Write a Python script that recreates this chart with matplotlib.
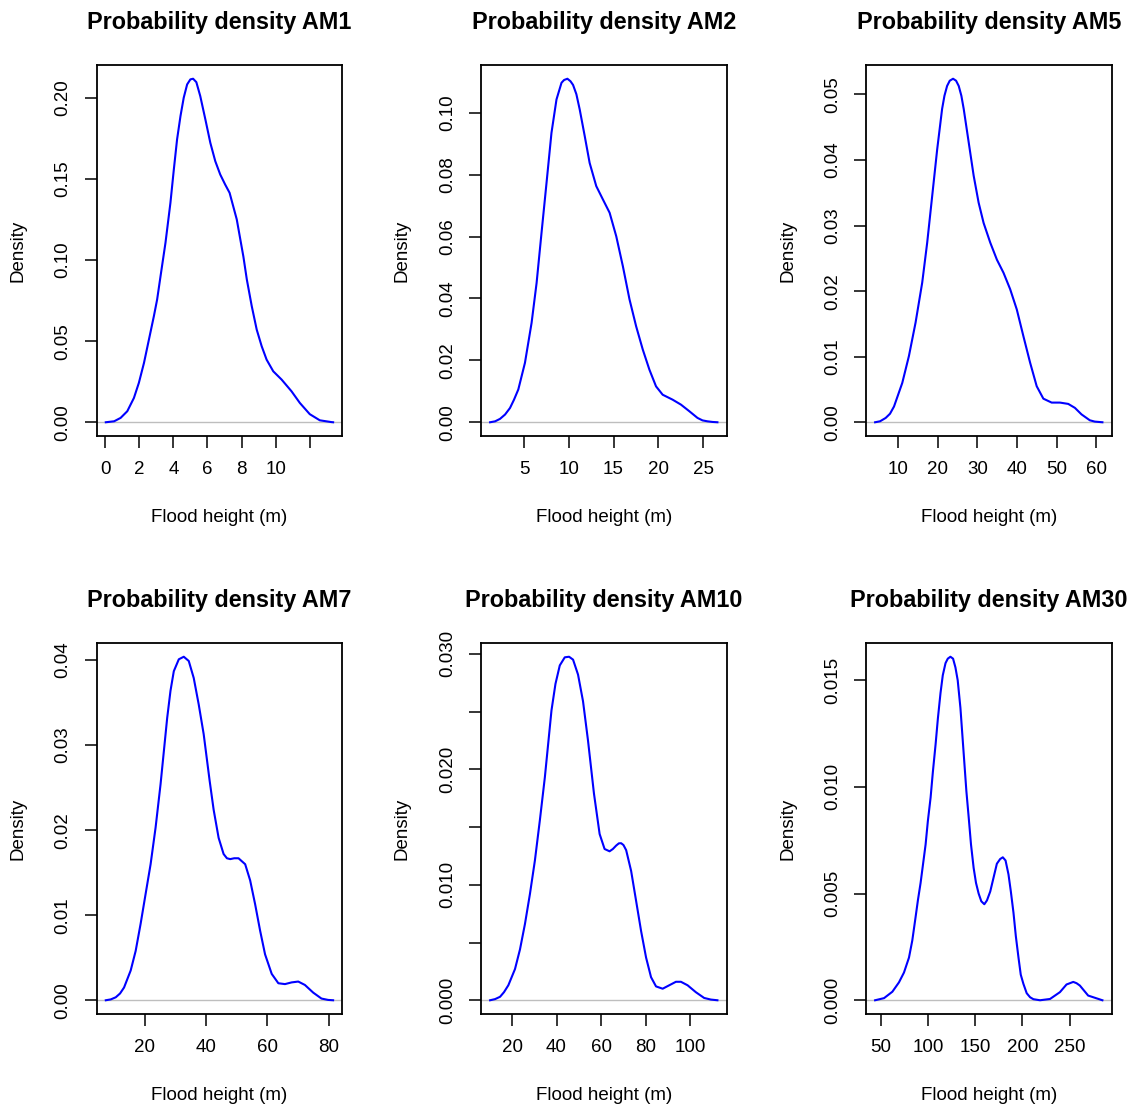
import matplotlib
matplotlib.use("Agg")
import matplotlib.pyplot as plt
import numpy as np

plt.rcParams['font.family'] = ['Liberation Sans', 'DejaVu Sans']

# density curves (x = flood height, y = density)
am1_x = [0.04, 0.53, 0.91, 1.30, 1.69, 1.98, 2.28, 2.57, 2.86, 3.05, 3.25, 3.54, 3.83, 4.03,
         4.22, 4.42, 4.61, 4.81, 5.00, 5.16, 5.35, 5.58, 5.88, 6.17, 6.46, 6.75, 7.04, 7.30,
         7.72, 8.11, 8.31, 8.60, 8.89, 9.18, 9.47, 9.86, 10.35, 10.93, 11.42, 12.00, 12.59,
         13.27, 13.37]
am1_y = [0.0, 0.0006, 0.0027, 0.0068, 0.015, 0.0243, 0.0366, 0.051, 0.0654, 0.0756, 0.090,
         0.1106, 0.1352, 0.1558, 0.1743, 0.1887, 0.200, 0.2082, 0.2113, 0.2117, 0.2096, 0.201,
         0.1866, 0.1722, 0.1609, 0.1527, 0.1465, 0.1414, 0.125, 0.102, 0.088, 0.0715, 0.0571,
         0.0469, 0.0386, 0.0314, 0.0263, 0.0191, 0.0119, 0.005, 0.0012, 0.0001, 0.0]

am2_x = [1.22, 1.78, 2.33, 2.89, 3.44, 3.89, 4.37, 5.11, 5.85, 6.41, 6.96, 7.52, 8.07, 8.63,
         9.19, 9.48, 9.85, 10.19, 10.48, 10.85, 11.22, 11.78, 12.33, 13.07, 13.81, 14.56, 15.30,
         16.04, 16.78, 17.52, 18.26, 19.00, 19.74, 20.48, 21.59, 22.52, 23.44, 24.37, 24.93,
         25.48, 26.04, 26.59]
am2_y = [0.0, 0.0003, 0.0011, 0.0025, 0.0046, 0.0073, 0.0106, 0.0192, 0.0321, 0.045, 0.0612,
         0.0774, 0.0935, 0.1043, 0.1097, 0.1106, 0.111, 0.1102, 0.1090, 0.1060, 0.1011, 0.0925,
         0.0838, 0.0763, 0.072, 0.0677, 0.0601, 0.0504, 0.0397, 0.031, 0.0235, 0.017, 0.0116,
         0.0089, 0.0073, 0.0057, 0.0036, 0.0014, 0.0006, 0.0003, 0.0001, 0.0]

am5_x = [4.13, 5.39, 6.81, 7.90, 8.91, 11.0, 12.68, 14.36, 16.04, 17.30, 18.56, 19.82, 21.07,
         21.66, 22.33, 23.0, 23.84, 24.6, 25.27, 25.94, 26.53, 27.79, 29.05, 30.30, 31.56, 33.24,
         34.92, 36.59, 38.27, 39.95, 41.63, 43.31, 44.98, 46.66, 48.76, 50.86, 52.95, 54.63,
         56.31, 58.41, 59.66, 61.59]
am5_y = [0.0, 0.00015, 0.00066, 0.0013, 0.0024, 0.006, 0.0101, 0.0152, 0.0213, 0.0274, 0.0345,
         0.0416, 0.0478, 0.0498, 0.0513, 0.0521, 0.0524, 0.0521, 0.0513, 0.0498, 0.0478, 0.0427,
         0.0376, 0.0335, 0.0304, 0.0274, 0.0248, 0.0228, 0.0203, 0.0172, 0.0131, 0.0091, 0.0055,
         0.0036, 0.003, 0.003, 0.0028, 0.0022, 0.0012, 0.0003, 0.0001, 0.0]

am7_x = [7.35, 8.97, 10.60, 12.00, 13.30, 15.46, 17.08, 18.70, 20.32, 21.95, 23.57, 25.19,
         26.27, 27.35, 28.43, 29.51, 31.14, 32.76, 34.38, 36.00, 37.62, 39.24, 41.19, 42.49,
         44.11, 45.73, 46.81, 47.89, 49.19, 50.59, 52.76, 54.38, 56.0, 57.62, 59.24, 61.41,
         63.57, 65.73, 67.89, 70.05, 72.22, 74.92, 77.62, 79.78, 81.41]
am7_y = [0.0, 0.0001, 0.00035, 0.0008, 0.0015, 0.0035, 0.0058, 0.009, 0.0125, 0.016, 0.0203,
         0.0254, 0.0293, 0.0332, 0.0364, 0.0387, 0.0401, 0.0404, 0.0399, 0.0379, 0.0348, 0.0313,
         0.0258, 0.0224, 0.0191, 0.0172, 0.0167, 0.0166, 0.0167, 0.0167, 0.016, 0.0141, 0.0113,
         0.0082, 0.0054, 0.0031, 0.002, 0.0019, 0.0021, 0.0022, 0.0018, 0.0009, 0.0002,
         0.00004, 0.0]

am10_x = [10.16, 12.4, 14.63, 16.4, 18.36, 21.34, 23.58, 25.81, 28.05, 30.28, 32.52, 34.75,
          36.24, 37.73, 39.52, 41.46, 43.70, 45.63, 47.42, 49.66, 51.89, 54.13, 56.81, 59.35,
          61.58, 63.82, 65.3, 66.80, 68.0, 69.03, 70.07, 71.27, 73.50, 75.74, 77.97, 80.21,
          82.44, 84.68, 87.66, 90.64, 93.62, 95.86, 98.84, 102.56, 106.29, 109.3, 112.25]
am10_y = [0.0, 0.0001, 0.0003, 0.0007, 0.0013, 0.0027, 0.0044, 0.0066, 0.0092, 0.0121, 0.0156,
          0.0193, 0.0222, 0.0251, 0.0274, 0.029, 0.0297, 0.02975, 0.0295, 0.0282, 0.0259,
          0.0225, 0.0179, 0.0144, 0.0131, 0.0129, 0.0131, 0.0134, 0.01359, 0.0136, 0.01344,
          0.013, 0.0112, 0.0086, 0.006, 0.0037, 0.002, 0.0012, 0.001, 0.0013, 0.0016, 0.0016,
          0.0013, 0.0007, 0.0002, 0.00006, 0.0]

am30_x = [44.0, 53.5, 62.3, 69.3, 74.6, 79.9, 83.4, 86.9, 89.4, 92.2, 97.5, 99.9, 102.8,
          105.2, 108.1, 110.5, 113.3, 115.7, 118.6, 121.0, 123.8, 126.6, 129.1, 131.5, 134.4,
          138.6, 140.7, 143.1, 145.6, 148.4, 150.9, 153.7, 156.5, 159.7, 162.5, 166.0, 173.0,
          176.5, 179.3, 182.2, 185.3, 187.8, 190.6, 193.1, 195.9, 198.3, 201.1, 204.6, 208.2,
          211.7, 218.7, 229.3, 239.8, 246.8, 250.4, 253.9, 257.4, 260.9, 269.7, 284.8]
am30_y = [0.0, 0.0001, 0.0004, 0.00084, 0.0013, 0.002, 0.0028, 0.0039, 0.0047, 0.0055,
          0.0073, 0.0084, 0.0095, 0.0107, 0.012, 0.0132, 0.0144, 0.01523, 0.0158, 0.01601,
          0.0161, 0.01601, 0.0156, 0.0150, 0.0137, 0.0111, 0.0098, 0.0086, 0.0073, 0.0062,
          0.0055, 0.005, 0.00464, 0.0045, 0.00468, 0.0051, 0.0064, 0.00662, 0.0067, 0.00655,
          0.0059, 0.0051, 0.0041, 0.003, 0.002, 0.0012, 0.00077, 0.00033, 0.00014, 0.00005,
          0.0, 0.00006, 0.00038, 0.00074, 0.0008, 0.00086, 0.0008, 0.00069, 0.00022, 0.0]

names = ["AM1", "AM2", "AM5", "AM7", "AM10", "AM30"]
curves = [(am1_x, am1_y), (am2_x, am2_y), (am5_x, am5_y),
          (am7_x, am7_y), (am10_x, am10_y), (am30_x, am30_y)]

# tick positions and labels (R leaves some ticks unlabeled)
xticks = [[0, 2, 4, 6, 8, 10, 12], [5, 10, 15, 20, 25], [10, 20, 30, 40, 50, 60],
          [20, 40, 60, 80], [20, 40, 60, 80, 100], [50, 100, 150, 200, 250]]
xlabels = [["0", "2", "4", "6", "8", "10", ""], ["5", "10", "15", "20", "25"],
           ["10", "20", "30", "40", "50", "60"], ["20", "40", "60", "80"],
           ["20", "40", "60", "80", "100"], ["50", "100", "150", "200", "250"]]
yticks = [[0, 0.05, 0.10, 0.15, 0.20], [0, 0.02, 0.04, 0.06, 0.08, 0.10],
          [0, 0.01, 0.02, 0.03, 0.04, 0.05], [0, 0.01, 0.02, 0.03, 0.04],
          [0, 0.005, 0.010, 0.015, 0.020, 0.025, 0.030], [0, 0.005, 0.010, 0.015]]
ylabels = [["0.00", "0.05", "0.10", "0.15", "0.20"],
           ["0.00", "0.02", "0.04", "0.06", "0.08", "0.10"],
           ["0.00", "0.01", "0.02", "0.03", "0.04", "0.05"],
           ["0.00", "0.01", "0.02", "0.03", "0.04"],
           ["0.000", "", "0.010", "", "0.020", "", "0.030"],
           ["0.000", "0.005", "0.010", "0.015"]]

W, H = 1134, 1105
fig = plt.figure(figsize=(W / 100, H / 100), dpi=100)

lefts = [96.7, 481, 866]
tops = [65, 643]
bw, bh = 245.5, 371

for i, (x, y) in enumerate(curves):
    r, c = divmod(i, 3)
    ax = fig.add_axes([lefts[c] / W, 1 - (tops[r] + bh) / H, bw / W, bh / H])
    x = np.array(x); y = np.array(y)
    ax.axhline(0, color="#BEBEBE", lw=1.0, zorder=1)
    ax.plot(x, y, color="#0000FF", lw=1.5, zorder=2, solid_joinstyle="round")

    # R-style 4% axis extension
    xr = x.max() - x.min()
    ax.set_xlim(x.min() - 0.04 * xr, x.max() + 0.04 * xr)
    ax.set_ylim(-0.04 * y.max(), 1.04 * y.max())

    ax.set_xticks(xticks[i]); ax.set_xticklabels(xlabels[i])
    ax.set_yticks(yticks[i]); ax.set_yticklabels(ylabels[i], rotation=90, va="center")
    ax.tick_params(length=8.6, width=1.1, pad=9.5, labelsize=13.5, colors="black")
    for s in ax.spines.values():
        s.set_linewidth(1.3)

    ax.set_title("Probability density " + names[i], fontsize=16.8, fontweight="bold", pad=26)
    ax.set_xlabel("Flood height (m)", fontsize=13.5)
    ax.xaxis.set_label_coords(0.5, -73 / bh)
    ax.set_ylabel("Density", fontsize=13.5)
    ax.yaxis.set_label_coords(-70 / bw, 0.5)

fig.savefig("out.png", dpi=100)
